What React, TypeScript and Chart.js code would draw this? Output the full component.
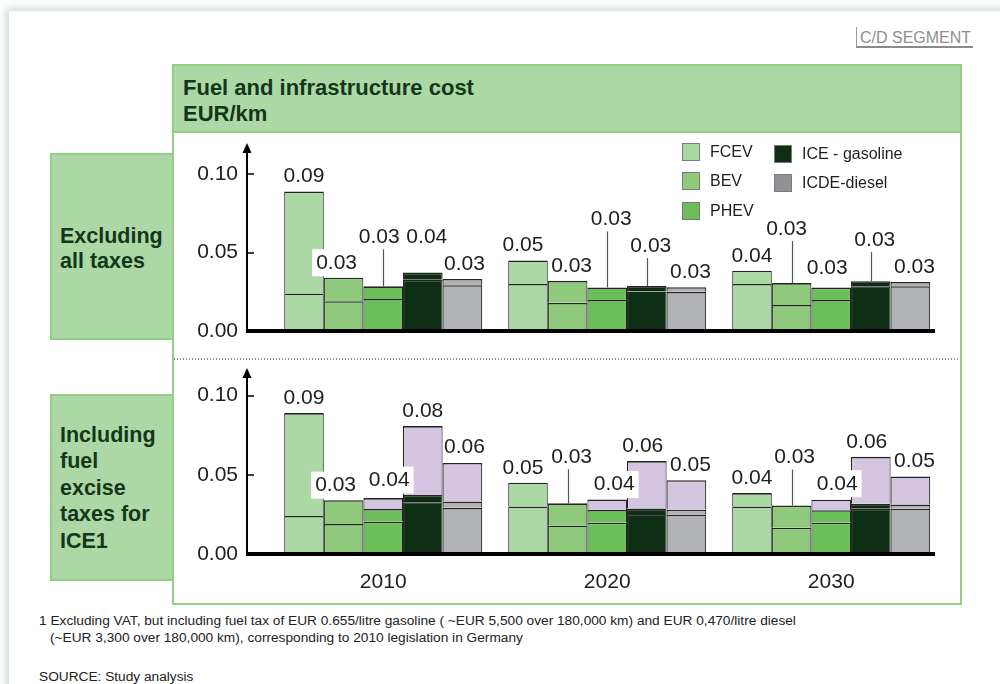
import React, { useEffect, useRef } from 'react';
import Chart from 'chart.js/auto';

// ---------- data ----------
const years = ['2010', '2020', '2030'];
const seriesNames = ['FCEV', 'BEV', 'PHEV', 'ICE - gasoline', 'ICDE-diesel'];

// lower segment of each bar (EUR/km)
const fcevBase = [0.024, 0.030, 0.030];
const bevBase = [0.019, 0.018, 0.0166];
const phevBase = [0.0205, 0.0198, 0.0198];
const iceBase = [0.0327, 0.0252, 0.0286];
const dieselBase = [0.0292, 0.025, 0.0286];

// upper segment of each bar (EUR/km)
const fcevTop = [0.065, 0.015, 0.0085];
const bevTop = [0.015, 0.014, 0.014];
const phevTop = [0.008, 0.008, 0.0079];
const iceTop = [0.0046, 0.0035, 0.0032];
const dieselTop = [0.004, 0.003, 0.0027];

// fuel excise taxes (lower panel only)
const phevTax = [0.0068, 0.0066, 0.0066];
const iceTax = [0.0435, 0.03, 0.0296];
const dieselTax = [0.0243, 0.0186, 0.0177];

// printed value labels
const topLabels = [
  ['0.09', '0.05', '0.04'],
  ['0.03', '0.03', '0.03'],
  ['0.03', '0.03', '0.03'],
  ['0.04', '0.03', '0.03'],
  ['0.03', '0.03', '0.03'],
];
const bottomLabels = [
  ['0.09', '0.05', '0.04'],
  ['0.03', '0.03', '0.03'],
  ['0.04', '0.04', '0.04'],
  ['0.08', '0.06', '0.06'],
  ['0.06', '0.05', '0.05'],
];

const yTickValues = [0, 0.05, 0.1];

const seriesBase = [fcevBase, bevBase, phevBase, iceBase, dieselBase];
const seriesTop = [fcevTop, bevTop, phevTop, iceTop, dieselTop];
const seriesTax = [null, null, phevTax, iceTax, dieselTax];

// ---------- styles / layout ----------
const barColors = ['#acd8a6', '#8fca7c', '#6bbe5a', '#0d2e13', '#b1b2b5'];
const legendColors = ['#acd8a6', '#8fca7c', '#6bbe5a', '#0d2e13', '#909195'];
const taxColor = '#d4c6e0';
const FONT = '"Liberation Sans", Arial, Helvetica, sans-serif';

// label placement: [lift above bar top px, dx px, mode 0=plain 1=leader line 2=white box]
const topLabelLayout = [
  [[15, 0, 0], [15, -5, 0], [14, 0, 0]],
  [[15, -7, 2], [15, 4, 0], [54, -5, 1]],
  [[49, -4, 1], [68, 4, 1], [19, -4, 0]],
  [[35, 4, 0], [40, 4, 1], [41, 4, 1]],
  [[15, 2, 0], [15, 4, 0], [15, 4, 0]],
];
const bottomLabelLayout = [
  [[15, 0, 0], [15, -5, 0], [15, 0, 0]],
  [[15, -8, 2], [46, 4, 1], [48, 3, 1]],
  [[18, 6, 2], [15, 7, 2], [16, 6, 2]],
  [[15, 0, 0], [15, -4, 0], [15, -4, 0]],
  [[16, 2, 0], [15, 4, 0], [15, 4, 0]],
];

const legendLayout = [
  { x: 682, y: 143 },
  { x: 682, y: 172 },
  { x: 682, y: 201.5 },
  { x: 773.5, y: 144.5 },
  { x: 773.5, y: 173.5 },
];

const X_MIN = -0.6125;
const X_MAX = 2.4634;

const barLabelPlugin = {
  id: 'barLabels',
  afterDatasetsDraw(chart: any, _args: any, opts: any) {
    const { ctx, chartArea: a, scales } = chart;
    const y = scales.y;
    ctx.save();
    ctx.fillStyle = '#000';
    // y axis with arrow
    ctx.fillRect(a.left, a.top + 6, 2, a.bottom - a.top - 6);
    ctx.beginPath();
    ctx.moveTo(a.left + 1, a.top);
    ctx.lineTo(a.left + 1 - 4.5, a.top + 10);
    ctx.lineTo(a.left + 1 + 4.5, a.top + 10);
    ctx.closePath();
    ctx.fill();
    // inner tick marks
    yTickValues.forEach((v) => {
      if (v === 0) return;
      const py = Math.round(y.getPixelForValue(v));
      ctx.fillRect(a.left, py - 0.75, 8, 1.5);
    });
    // baseline
    ctx.fillRect(a.left, a.bottom - 2, a.right - a.left, 4);

    // value labels
    ctx.font = `21px ${FONT}`;
    ctx.textAlign = 'center';
    ctx.textBaseline = 'middle';
    opts.tops.forEach((dsIndex: number, i: number) => {
      const meta = chart.getDatasetMeta(dsIndex);
      meta.data.forEach((el: any, j: number) => {
        const [lift, dx, mode] = opts.layout[i][j];
        const text = opts.labels[i][j];
        const tx = el.x + dx;
        const ty = el.y - lift;
        if (mode === 2) {
          const w = ctx.measureText(text).width + 8;
          ctx.fillStyle = '#ffffff';
          ctx.fillRect(tx - w / 2, ty - 13.5, w, 27);
        }
        if (mode === 1) {
          const lx = Math.round(el.x) + 0.5;
          ctx.strokeStyle = '#555';
          ctx.lineWidth = 1.2;
          ctx.beginPath();
          ctx.moveTo(lx, ty + 12);
          ctx.lineTo(lx, el.y);
          ctx.stroke();
        }
        ctx.fillStyle = '#1e1e1e';
        ctx.fillText(text, tx, ty);
      });
    });
    ctx.restore();
  },
};

function buildDatasets(withTax: boolean) {
  const datasets: any[] = [];
  const tops: number[] = [];
  seriesBase.forEach((base, i) => {
    const common = {
      stack: 's' + i,
      borderColor: '#242424',
      borderWidth: { top: 1.6, left: 1.1, right: 1.1, bottom: 0 },
      borderSkipped: 'start',
    };
    datasets.push({
      ...common,
      label: seriesNames[i],
      data: base.map((v, j) => ({ x: j, y: v })),
      backgroundColor: barColors[i],
    });
    datasets.push({
      ...common,
      label: seriesNames[i] + ' (upper)',
      data: seriesTop[i].map((v, j) => ({ x: j, y: v })),
      backgroundColor: barColors[i],
    });
    const tax = seriesTax[i];
    if (withTax && tax) {
      datasets.push({
        ...common,
        label: 'Fuel excise tax',
        data: tax.map((v, j) => ({ x: j, y: v })),
        backgroundColor: taxColor,
      });
    }
    tops.push(datasets.length - 1);
  });
  return { datasets, tops };
}

function makeChart(canvas: HTMLCanvasElement, lower: boolean) {
  const { datasets, tops } = buildDatasets(lower);
  const yMax = lower ? 0.1175 : 0.12;
  const xHeight = lower ? 48 : 19;
  return new Chart(canvas, {
    type: 'bar',
    data: { datasets },
    plugins: [barLabelPlugin as any],
    options: {
      animation: false,
      responsive: false,
      devicePixelRatio: 1,
      layout: { padding: { top: lower ? 6 : 8, right: 25, bottom: 0, left: 0 } },
      datasets: { bar: { categoryPercentage: 0.884, barPercentage: 1 } } as any,
      plugins: {
        legend: { display: false },
        tooltip: { enabled: false },
        barLabels: {
          tops,
          labels: lower ? bottomLabels : topLabels,
          layout: lower ? bottomLabelLayout : topLabelLayout,
        },
      } as any,
      scales: {
        x: {
          type: 'linear',
          stacked: true,
          offset: false,
          min: X_MIN,
          max: X_MAX,
          grid: { display: false, drawTicks: false, offset: false },
          border: { display: false },
          ticks: {
            display: lower,
            padding: 16,
            color: '#1e1e1e',
            font: { family: FONT, size: 21 },
            callback: (v: any) => years[v as number] ?? '',
          },
          afterBuildTicks: (s: any) => {
            s.ticks = years.map((_, i) => ({ value: i }));
          },
          afterFit: (s: any) => {
            s.height = xHeight;
            s.paddingLeft = 0;
            s.paddingRight = 0;
          },
        } as any,
        y: {
          stacked: true,
          min: 0,
          max: yMax,
          grid: { display: false, drawTicks: false },
          border: { display: false },
          ticks: {
            padding: 8,
            color: '#1e1e1e',
            font: { family: FONT, size: 21 },
            callback: (v: any) => Number(v).toFixed(2),
          },
          afterBuildTicks: (s: any) => {
            s.ticks = yTickValues.map((v) => ({ value: v }));
          },
          afterFit: (s: any) => {
            s.width = 76;
            s.paddingTop = 0;
            s.paddingBottom = 0;
          },
        } as any,
      },
    },
  });
}

const abs = (o: React.CSSProperties): React.CSSProperties => ({ position: 'absolute', ...o });
const GREEN = '#acd8a6';
const GREEN_BORDER = '#93ce85';
const DARK_TEXT = '#14361a';

export default function App() {
  const topRef = useRef<HTMLCanvasElement>(null);
  const botRef = useRef<HTMLCanvasElement>(null);

  useEffect(() => {
    const c1 = makeChart(topRef.current as HTMLCanvasElement, false);
    const c2 = makeChart(botRef.current as HTMLCanvasElement, true);
    return () => {
      c1.destroy();
      c2.destroy();
    };
  }, []);

  return (
    <div
      style={abs({
        left: 0,
        top: 0,
        width: 1000,
        height: 684,
        overflow: 'hidden',
        background: '#ffffff',
        fontFamily: FONT,
      })}
    >
      <div
        style={abs({
          left: 9,
          top: 11,
          width: 1010,
          height: 700,
          background: '#fff',
          boxShadow: '0 0 8px 3px rgba(170,184,184,0.55)',
        })}
      />
      {/* segment tag */}
      <div
        style={abs({
          left: 856,
          top: 27,
          width: 117,
          height: 21,
          borderLeft: '1.5px solid #9a9a9a',
          borderBottom: '2px solid #8a8a8a',
          color: '#8e8e8e',
          fontSize: 16,
          lineHeight: '21px',
          paddingLeft: 3,
          boxSizing: 'border-box',
          whiteSpace: 'nowrap',
        })}
      >
        C/D SEGMENT
      </div>

      {/* chart panel */}
      <div
        style={abs({
          left: 172,
          top: 131,
          width: 790,
          height: 474,
          border: `2px solid ${GREEN_BORDER}`,
          boxSizing: 'border-box',
        })}
      />
      {/* header */}
      <div
        style={abs({
          left: 172,
          top: 64,
          width: 790,
          height: 69,
          background: GREEN,
          border: `2px solid ${GREEN_BORDER}`,
          boxSizing: 'border-box',
        })}
      />
      <div
        style={abs({
          left: 183,
          top: 75,
          fontSize: 22,
          fontWeight: 'bold',
          lineHeight: '25.6px',
          color: DARK_TEXT,
          whiteSpace: 'nowrap',
        })}
      >
        Fuel and infrastructure cost
        <br />
        EUR/km
      </div>

      {/* row labels */}
      <div
        style={abs({
          left: 50,
          top: 152.5,
          width: 124,
          height: 187.5,
          background: GREEN,
          border: `2px solid ${GREEN_BORDER}`,
          boxSizing: 'border-box',
        })}
      />
      <div
        style={abs({
          left: 60,
          top: 223.7,
          fontSize: 21.5,
          fontWeight: 'bold',
          lineHeight: '25px',
          color: DARK_TEXT,
          whiteSpace: 'nowrap',
        })}
      >
        Excluding
        <br />
        all taxes
      </div>
      <div
        style={abs({
          left: 50,
          top: 394,
          width: 124,
          height: 187,
          background: GREEN,
          border: `2px solid ${GREEN_BORDER}`,
          boxSizing: 'border-box',
        })}
      />
      <div
        style={abs({
          left: 60,
          top: 421.7,
          fontSize: 21.5,
          fontWeight: 'bold',
          lineHeight: '26.6px',
          color: DARK_TEXT,
          whiteSpace: 'nowrap',
        })}
      >
        Including
        <br />
        fuel
        <br />
        excise
        <br />
        taxes for
        <br />
        ICE1
      </div>

      {/* dotted separator */}
      <div
        style={abs({
          left: 174,
          top: 357.5,
          width: 786,
          height: 2,
          backgroundImage: 'linear-gradient(to right, #8c8c8c 50%, transparent 50%)',
          backgroundSize: '3px 2px',
        })}
      />

      <canvas ref={topRef} width={790} height={215} style={abs({ left: 170, top: 135, width: 790, height: 215 })} />
      <canvas ref={botRef} width={790} height={240} style={abs({ left: 170, top: 362, width: 790, height: 240 })} />

      {/* legend */}
      {seriesNames.map((name, i) => (
        <React.Fragment key={name}>
          <div
            style={abs({
              left: legendLayout[i].x,
              top: legendLayout[i].y,
              width: 18,
              height: 18,
              background: legendColors[i],
              border: '1px solid #7a7a7a',
              boxSizing: 'border-box',
            })}
          />
          <div
            style={abs({
              left: legendLayout[i].x + (i < 3 ? 28 : 28.5),
              top: legendLayout[i].y - 1,
              fontSize: 16,
              lineHeight: '20px',
              color: '#1e1e1e',
              whiteSpace: 'nowrap',
            })}
          >
            {name}
          </div>
        </React.Fragment>
      ))}

      {/* footnotes */}
      <div style={abs({ left: 39, top: 612, fontSize: 13.7, lineHeight: '17px', color: '#222', whiteSpace: 'nowrap' })}>
        1 Excluding VAT, but including fuel tax of EUR 0.655/litre gasoline ( ~EUR 5,500 over 180,000 km) and EUR 0,470/litre diesel
        <br />
        <span style={{ paddingLeft: 11 }}>(~EUR 3,300 over 180,000 km), corresponding to 2010 legislation in Germany</span>
      </div>
      <div style={abs({ left: 39, top: 668, fontSize: 13.7, lineHeight: '17px', color: '#222', whiteSpace: 'nowrap' })}>
        SOURCE: Study analysis
      </div>
    </div>
  );
}
